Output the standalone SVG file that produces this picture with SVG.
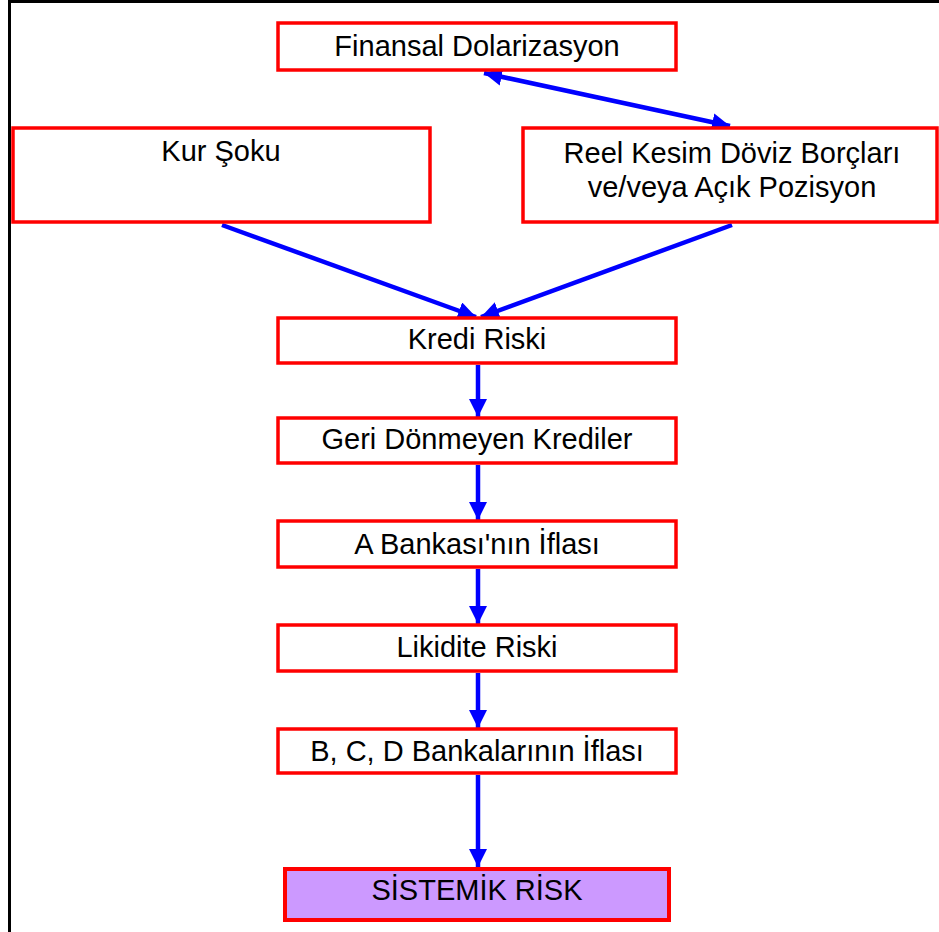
<svg xmlns="http://www.w3.org/2000/svg" width="939" height="932" viewBox="0 0 939 932">
<style>
.box{fill:#fff;stroke:#ff0000;stroke-width:3.5}
.sys{fill:#cc99ff;stroke:#ff0000;stroke-width:4}
.t{font-family:"Liberation Sans",Arial,sans-serif;font-size:29px;fill:#000;text-anchor:middle}
.c{stroke:#0000ff;stroke-width:4.5;fill:none}
</style>
<defs>
<marker id="ah" markerUnits="userSpaceOnUse" markerWidth="19" markerHeight="18" refX="18" refY="9" orient="auto-start-reverse" viewBox="0 0 19 18">
<path d="M0,0 L18,9 L0,18 z" fill="#0000ff"/>
</marker>
</defs>
<rect x="9.5" y="1.5" width="940" height="940" fill="#fff" stroke="#000" stroke-width="3"/>
<g id="connectors">
<line class="c" x1="484" y1="73" x2="730" y2="126" marker-start="url(#ah)" marker-end="url(#ah)"/>
<line class="c" x1="222" y1="225" x2="476" y2="317" marker-end="url(#ah)"/>
<line class="c" x1="732" y1="225" x2="481" y2="317" marker-end="url(#ah)"/>
<line class="c" x1="478" y1="365" x2="478" y2="417" marker-end="url(#ah)"/>
<line class="c" x1="478" y1="465" x2="478" y2="520" marker-end="url(#ah)"/>
<line class="c" x1="478" y1="569" x2="478" y2="624" marker-end="url(#ah)"/>
<line class="c" x1="478" y1="673" x2="478" y2="728" marker-end="url(#ah)"/>
<line class="c" x1="478" y1="775" x2="478" y2="867" marker-end="url(#ah)"/>
</g>
<g id="finansal">
<rect class="box" x="278" y="23" width="398" height="47"/>
<text class="t" x="477" y="56">Finansal Dolarizasyon</text>
</g>
<g id="kur">
<rect class="box" x="13" y="128" width="417" height="94"/>
<text class="t" x="221" y="161">Kur Şoku</text>
</g>
<g id="reel">
<rect class="box" x="523" y="128" width="414" height="94"/>
<text class="t" x="732" y="163">Reel Kesim Döviz Borçları</text>
<text class="t" x="732" y="197">ve/veya Açık Pozisyon</text>
</g>
<g id="kredi">
<rect class="box" x="278" y="318" width="398" height="45"/>
<text class="t" x="477" y="349">Kredi Riski</text>
</g>
<g id="geri">
<rect class="box" x="278" y="418" width="398" height="45"/>
<text class="t" x="477" y="449">Geri Dönmeyen Krediler</text>
</g>
<g id="abank">
<rect class="box" x="278" y="521" width="398" height="46"/>
<text class="t" x="477" y="554">A Bankası'nın İflası</text>
</g>
<g id="likidite">
<rect class="box" x="278" y="625" width="398" height="46"/>
<text class="t" x="477" y="657">Likidite Riski</text>
</g>
<g id="bcd">
<rect class="box" x="278" y="729" width="398" height="44"/>
<text class="t" x="477" y="761">B, C, D Bankalarının İflası</text>
</g>
<g id="sistemik">
<rect class="sys" x="285" y="869" width="384" height="51"/>
<text class="t" x="477" y="900">SİSTEMİK RİSK</text>
</g>
</svg>
